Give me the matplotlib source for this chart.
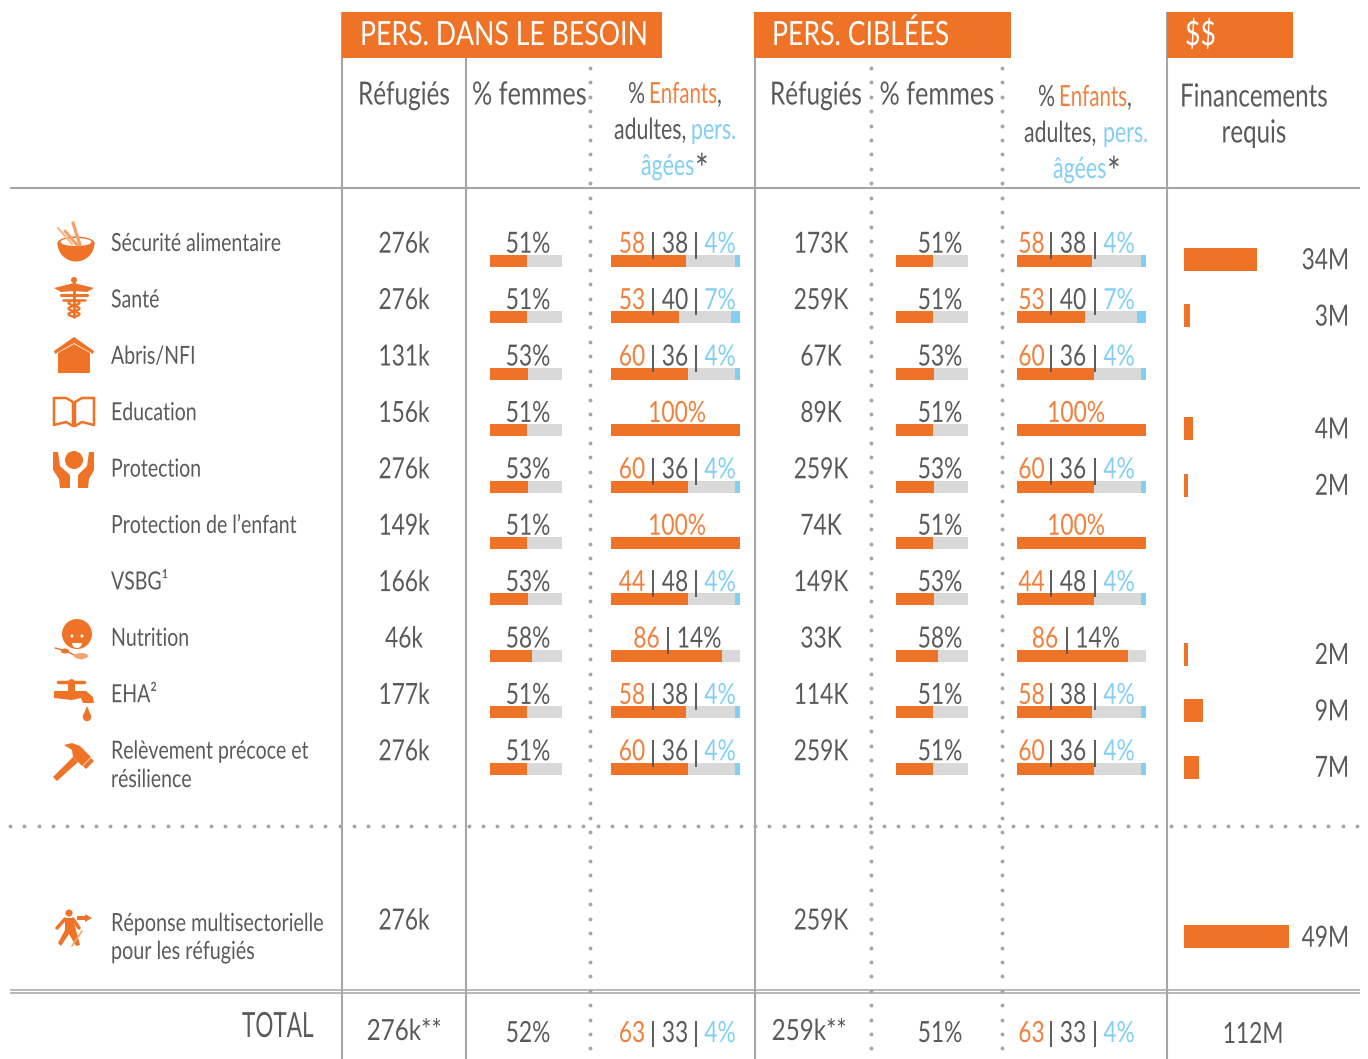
import numpy as np
import matplotlib
matplotlib.use('Agg')
import matplotlib.pyplot as plt
import matplotlib.patheffects as pe
from matplotlib.patches import Circle, Ellipse, Polygon, Wedge, Rectangle
from matplotlib.transforms import Affine2D

plt.rcParams['font.family'] = ['Lato', 'DejaVu Sans']

# data
sectors = ['Sécurité alimentaire', 'Santé', 'Abris/NFI', 'Education', 'Protection',
           'Protection de l’enfant', 'VSBG¹', 'Nutrition', 'EHA²',
           'Relèvement précoce et\nrésilience']
need_refugees = ['276k', '276k', '131k', '156k', '276k', '149k', '166k', '46k', '177k', '276k']
target_refugees = ['173K', '259K', '67K', '89K', '259K', '74K', '149K', '33K', '114K', '259K']
women_pct = [51, 51, 53, 51, 53, 51, 53, 58, 51, 51]

# numbers printed above the age bars
kids_label = [58, 53, 60, 100, 60, 100, 44, 86, 58, 60]
adults_label = [38, 40, 36, None, 36, None, 48, 14, 38, 36]
elders_label = [4, 7, 4, None, 4, None, 4, None, 4, 4]
# lengths of the age bars (not always the same as the printed numbers)
kids_bar = [58, 53, 60, 100, 60, 100, 60, 86, 58, 60]
adults_bar = [38, 40, 36, 0, 36, 0, 36, 14, 38, 36]
elders_bar = [4, 7, 4, 0, 4, 0, 4, 0, 4, 4]

funding = [34, 3, None, 4, 2, None, None, 2, 9, 7]
multi_funding = 49
multi_label = 'Réponse multisectorielle\npour les réfugiés'
multi_refugees = ['276k', '259K']
total_refugees = ['276k**', '259k**']
total_women = ['52%', '51%']
total_age = [63, 33, 4]
total_funding = '112M'

ORANGE = '#EE7326'
TXT_ORANGE = '#F0803C'
BLUE = '#82CFF5'
GREY = '#5A5A5A'
BAR_GREY = '#D9D9D9'
LINE = '#A6A6A6'


class Squeeze(pe.AbstractPathEffect):
    # narrows the glyphs around the anchor, there is no condensed font here
    def __init__(self, cx, k):
        self.cx = cx
        self.k = k

    def draw_path(self, renderer, gc, tpath, affine, rgbFace=None):
        t = affine + Affine2D().translate(-self.cx, 0).scale(self.k, 1).translate(self.cx, 0)
        renderer.draw_path(gc, tpath, t, rgbFace)


fig = plt.figure(figsize=(13.68, 10.59), dpi=100)
ax = fig.add_axes([0, 0, 1, 1])
ax.set_xlim(0, 1368)
ax.set_ylim(1059, 0)
ax.axis('off')


def txt(x, y, s, size=21, color=GREY, ha='center', k=0.78, **kw):
    ax.text(x, y, s, fontsize=size, color=color, ha=ha, va='baseline', parse_math=False,
            path_effects=[Squeeze(x, k)], **kw)


def vline(x, y0, y1=1059, color=LINE, lw=1.5, z=1):
    ax.plot([x, x], [y0, y1], color=color, lw=lw, solid_capstyle='butt', zorder=z)


def hline(y, x0=10, x1=1360, lw=1.5):
    ax.plot([x0, x1], [y, y], color=LINE, lw=lw, solid_capstyle='butt', zorder=1)


# grid
for x, y0 in [(342, 12), (466, 58), (754.5, 12), (1167, 12)]:
    vline(x, y0)
hline(187.5)
hline(990, lw=1.1)
hline(993, lw=1.1)
for x in [590, 871, 1002]:
    ys = np.arange(53.5, 1059, 14.42)
    ax.plot(np.full(len(ys), x), ys, 'o', ms=2.8, color=LINE, mew=0, zorder=1)
xs = np.arange(10, 1364, 14.33)
ax.plot(xs, np.full(len(xs), 826), 'o', ms=2.8, color=LINE, mew=0, zorder=1)

# header boxes
for x0, x1, label, tx in [(342, 662, 'PERS. DANS LE BESOIN', 360),
                          (754, 1011, 'PERS. CIBLÉES', 772),
                          (1167, 1293, '$$', 1185)]:
    ax.add_patch(Rectangle((x0, 12), x1 - x0, 46, color=ORANGE, lw=0, zorder=2))
    txt(tx, 45, label, size=24, color='white', ha='left', k=0.8, zorder=3)

for x in [404, 816]:
    txt(x, 104.5, 'Réfugiés', size=23, k=0.76)
txt(529.5, 104.5, '% femmes', size=23, k=0.79)
txt(937, 104.5, '% femmes', size=23, k=0.79)
txt(1254, 106.5, 'Financements', size=23, k=0.755)
txt(1254, 142.5, 'requis', size=23, k=0.755)

# the coloured three line headers
for dx, dy, ex in [(0, 0, 0), (410, 3, 2)]:
    txt(628 + dx, 103 + dy, '%', size=21, k=0.73, ha='left')
    txt(649 + dx, 103 + dy, 'Enfants', size=21, k=0.70, color=TXT_ORANGE, ha='left')
    txt(717 + dx, 103 + dy, ',', size=21, k=0.73, ha='left')
    txt(614 + dx, 139 + dy, 'adultes,', size=21, k=0.73, ha='left')
    txt(691 + dx + ex, 139 + dy, 'pers.', size=21, k=0.73, color=BLUE, ha='left')
    txt(641 + dx + ex, 175 + dy, 'âgées', size=21, k=0.73, color=BLUE, ha='left')
    txt(695 + dx + ex, 183 + dy, '*', size=29, k=0.8, ha='left')

# columns of the two groups
groups = [{'ref': need_refugees, 'ref_x': 404, 'w_x': 490, 'w_lbl': 528, 'a_x': 611,
           'k_x': 632, 'p1': 652.5, 'ad_x': 675, 'p2': 696, 'e_x': 720, 'mid': 677,
           'k2': 646.5, 'p3': 668, 'ad2': 699},
          {'ref': target_refugees, 'ref_x': 821, 'w_x': 896, 'w_lbl': 940, 'a_x': 1017,
           'k_x': 1031.5, 'p1': 1051, 'ad_x': 1073, 'p2': 1095, 'e_x': 1119, 'mid': 1076,
           'k2': 1045, 'p3': 1066.5, 'ad2': 1097.5}]
W_LEN = 72
A_LEN = 129
BAR_H = 12
F_SCALE = 2.15

for i in range(len(sectors)):
    base = 252 + 56.4 * i
    tb = base + 0.7
    label_lines = sectors[i].split('\n')
    for j, line in enumerate(label_lines):
        txt(111, base - 1 + 28.5 * j, line, size=18, k=0.78, ha='left')

    for g in groups:
        txt(g['ref_x'], tb, g['ref'][i])
        txt(g['w_lbl'], tb, '%d%%' % women_pct[i])
        bar_y = base + 9
        ax.barh(bar_y, W_LEN, left=g['w_x'], height=BAR_H, color=BAR_GREY, lw=0, zorder=2)
        ax.barh(bar_y, W_LEN * women_pct[i] / 100, left=g['w_x'], height=BAR_H, color=ORANGE, lw=0, zorder=3)

        ax.barh(bar_y, A_LEN, left=g['a_x'], height=BAR_H, color=BAR_GREY, lw=0, zorder=2)
        left = g['a_x']
        for val, col in [(kids_bar[i], ORANGE), (adults_bar[i], BAR_GREY), (elders_bar[i], BLUE)]:
            ax.barh(bar_y, A_LEN * val / 100, left=left, height=BAR_H, color=col, lw=0, zorder=3)
            left += A_LEN * val / 100

        if adults_label[i] is None:
            txt(g['mid'], tb, '%d%%' % kids_label[i], color=TXT_ORANGE)
        elif elders_label[i] is None:
            txt(g['k2'], tb, str(kids_label[i]), color=TXT_ORANGE)
            vline(g['p3'], base - 20, base + 7, color=GREY, lw=1.4, z=4)
            txt(g['ad2'], tb, '%d%%' % adults_label[i])
        else:
            txt(g['k_x'], tb, str(kids_label[i]), color=TXT_ORANGE)
            vline(g['p1'], base - 20, base + 7, color=GREY, lw=1.4, z=4)
            txt(g['ad_x'], tb, str(adults_label[i]))
            vline(g['p2'], base - 20, base + 7, color=GREY, lw=1.4, z=4)
            txt(g['e_x'], tb, '%d%%' % elders_label[i], color=BLUE)

    if funding[i] is not None:
        fy = base + 7.5
        ax.barh(fy, funding[i] * F_SCALE, left=1184, height=23, color=ORANGE, lw=0, zorder=3)
        txt(1349, fy + 9.7, '%dM' % funding[i], ha='right')

# multisector row
for j, line in enumerate(multi_label.split('\n')):
    txt(111, 931 + 28 * j, line, size=18, k=0.79, ha='left')
txt(404, 929.5, multi_refugees[0])
txt(821, 929.5, multi_refugees[1])
ax.barh(936.5, multi_funding * F_SCALE, left=1184, height=23, color=ORANGE, lw=0, zorder=3)
txt(1349, 946.7, '%dM' % multi_funding, ha='right')

# total row
txt(242, 1037, 'TOTAL', size=25, k=0.65, ha='left')
for g, ref, wom, wx, tx in zip(groups, total_refugees, total_women, [528, 940], [404, 809]):
    txt(tx, 1040, ref, k=0.83)
    txt(wx, 1042, wom)
    txt(g['k_x'], 1042, str(total_age[0]), color=TXT_ORANGE)
    vline(g['p1'], 1021, 1047, color=GREY, lw=1.4, z=4)
    txt(g['ad_x'], 1042, str(total_age[1]))
    vline(g['p2'], 1021, 1047, color=GREY, lw=1.4, z=4)
    txt(g['e_x'], 1042, '%d%%' % total_age[2], color=BLUE)
txt(1253, 1043, total_funding)


# icons, rough redraws of the pictograms
def poly(pts, color=ORANGE, **kw):
    ax.add_patch(Polygon(pts, closed=True, facecolor=color, edgecolor='none', zorder=4, **kw))


def stroke(xs, ys, lw=1.5, color=ORANGE):
    ax.plot(xs, ys, color=color, lw=lw, solid_capstyle='round', zorder=4)


# bowl
ax.add_patch(Wedge((76, 243), 18.5, 0, 180, facecolor=ORANGE, lw=0, zorder=4))
ax.add_patch(Ellipse((76, 243), 37, 13, facecolor=ORANGE, lw=0, zorder=4))
ax.add_patch(Ellipse((76, 242), 31, 8, facecolor='white', lw=0, zorder=4))
stroke([58, 72], [228, 244], 1.6, '#F6B88C')
stroke([73, 80], [223, 245], 2.4, '#F3A26A')
stroke([65, 77], [231, 245], 2.2, '#F3A26A')

# caduceus
poly([(74, 283), (54, 288), (61, 292), (74, 291)])
poly([(74, 283), (94, 288), (87, 292), (74, 291)])
ax.add_patch(Circle((74, 280), 3, facecolor=ORANGE, lw=0, zorder=4))
stroke([74, 74], [283, 317], 2)
stroke([61, 87], [295, 295], 2.2)
stroke([63, 85], [300, 300], 1.8)
t = np.linspace(0, 3 * np.pi, 50)
stroke(74 + 5.5 * np.sin(t), 300 + 17 * t / (3 * np.pi), 1.7)
stroke(74 - 5.5 * np.sin(t), 300 + 17 * t / (3 * np.pi), 1.7)

# house
poly([(74, 337), (94, 351), (93, 354), (74, 343), (55, 354), (54, 351)])
poly([(74, 344), (90, 353), (90, 373), (58, 373), (58, 353)])

# book
stroke([54, 54, 66, 73, 73, 66, 54], [398, 425, 422, 426, 402, 398, 398], 1.8)
stroke([94, 94, 82, 75, 75, 82, 94], [398, 425, 422, 426, 402, 398, 398], 1.8)

# hands and head
ax.add_patch(Circle((74, 460), 9, facecolor=ORANGE, lw=0, zorder=4))
poly([(53, 452), (58, 452), (60, 466), (70, 475), (70, 488), (60, 488), (59, 479), (53, 470)])
poly([(94, 452), (89, 452), (87, 466), (78, 475), (78, 488), (88, 488), (89, 479), (94, 470)])

# face with spoon
ax.add_patch(Circle((77, 634), 15, facecolor=ORANGE, lw=0, zorder=4))
ax.add_patch(Circle((72, 636), 1.5, facecolor='white', lw=0, zorder=5))
ax.add_patch(Circle((82, 636), 1.5, facecolor='white', lw=0, zorder=5))
ax.add_patch(Wedge((77, 643), 5, 0, 180, facecolor='white', lw=0, zorder=5))
stroke([55, 66, 82], [648, 651, 659], 1)
ax.add_patch(Ellipse((65, 651), 8, 5, facecolor=ORANGE, lw=0, zorder=4))
ax.add_patch(Ellipse((81, 656), 14, 6, facecolor='#F4A56F', lw=0, zorder=4))

# tap
stroke([58, 84], [682, 682], 2.5)
stroke([71, 71], [682, 690], 5)
poly([(54, 691), (86, 691), (93, 697), (94, 703), (83, 703), (81, 698), (72, 700), (54, 698)])
ax.add_patch(Circle((87, 717), 4.2, facecolor=ORANGE, lw=0, zorder=4))
poly([(87, 706), (91, 716), (83, 716)])

# hammer
poly([(53, 777), (57, 781), (78, 762), (73, 757)])
poly([(64, 745), (72, 743), (80, 746), (91, 757), (82, 766), (73, 757), (72, 750)])
poly([(88, 761), (91, 758), (94, 761), (86, 769), (83, 766)])

# walking person
ax.add_patch(Circle((69, 913), 3.5, facecolor=ORANGE, lw=0, zorder=4))
poly([(65, 918), (73, 918), (76, 930), (80, 945), (76, 946), (69, 934), (61, 946), (58, 943), (65, 930)])
stroke([65, 57], [919, 928], 2.5)
stroke([73, 79], [919, 928], 2.5)
poly([(77, 916), (85, 916), (85, 914), (92, 918), (85, 922), (85, 920), (77, 920)])
stroke([72, 82], [946, 931], 1.2, '#F4A56F')

fig.savefig('out.png', dpi=100)
